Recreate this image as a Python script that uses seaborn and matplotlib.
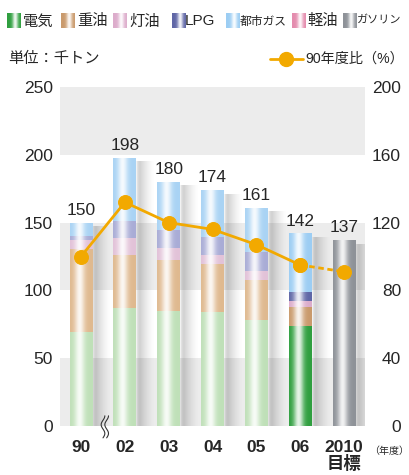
import numpy as np
import pandas as pd
import matplotlib
matplotlib.use("Agg")
import matplotlib.pyplot as plt
import matplotlib.colors as mcolors
from matplotlib.patches import Rectangle
import seaborn as sns

# ---------------- data ----------------
years = ["90", "02", "03", "04", "05", "06", "2010"]
year_labels = ["90", "02", "03", "04", "05", "06", "2010\n目標"]
fuels = ["電気", "重油", "灯油", "LPG", "都市ガス", "軽油", "ガソリン"]
electricity = [69, 87, 85, 84, 78, 74, 0]
heavy_oil = [61.5, 39, 37.5, 35.5, 30, 13.5, 0]
kerosene = [7, 13, 9, 6.5, 6.5, 5, 0]
lpg = [2.5, 12, 13, 13.5, 13.5, 6.5, 0]
city_gas = [10, 47, 35.5, 34.5, 33, 43, 0]
light_oil = [0, 0, 0, 0, 0, 0, 0]
gasoline = [0, 0, 0, 0, 0, 0, 137]
totals = [150, 198, 180, 174, 161, 142, 137]
ratio_pct = [100, 132, 120, 116, 107, 95, 91]
highlight_year = "06"

# ---------------- styles ----------------
sns.set_style("white")
plt.rcParams["font.family"] = ["Liberation Sans", "Noto Sans CJK JP", "DejaVu Sans"]
CJK = ["Noto Sans CJK JP", "DejaVu Sans"]

light_cols = ["#bfe0b8", "#dfb98f", "#e2c2d8", "#a9acd6", "#a9d3f4", "#eaa0bc", "#8e9298"]
strong_cols = ["#2f9f3f", "#c99a6c", "#dcaccb", "#5f66a6", "#9ccdf3", "#e48cae", "#8e9298"]
orange = "#f2a900"

def grad_img(color, n=64, peak=0.42, amt=0.88):
    c = np.array(mcolors.to_rgb(color))
    t = np.linspace(0, 1, n)
    w = amt * np.exp(-((t - peak) / 0.22) ** 2)
    img = c[None, :] * (1 - w[:, None]) + w[:, None]
    return img[None, :, :]

W, H = 409, 475
fig = plt.figure(figsize=(W / 100, H / 100), dpi=100)
ax = fig.add_axes([60 / W, 49 / H, 305 / W, 339 / H])

segs = np.array([electricity, heavy_oil, kerosene, lpg, city_gas, light_oil, gasoline], dtype=float)
cum = np.cumsum(segs, axis=0)

xlim = (-0.48, 6.48)
ax.set_xlim(*xlim)
ax.set_ylim(0, 250)

# background bands
for lo, hi in [(0, 50), (100, 150), (200, 250)]:
    ax.axhspan(lo, hi, color="#ececec", zorder=0, lw=0)

hi_idx = years.index(highlight_year)
bar_right = {}
for k in reversed(range(len(fuels))):
    d = pd.DataFrame({"year": years, "value": cum[k]})
    n0 = len(ax.patches)
    sns.barplot(data=d, x="year", y="value", order=years, color=light_cols[k],
                width=0.52, errorbar=None, saturation=1, linewidth=0, ax=ax)
    new = ax.patches[n0:]
    ax.set_xlim(*xlim)
    ax.set_ylim(0, 250)
    ax.set_autoscale_on(False)
    for p in new:
        i = int(round(p.get_x() + p.get_width() / 2))
        p.set_facecolor("none")
        p.set_edgecolor("none")
        if segs[k][i] <= 0:
            continue
        bar_right[i] = p.get_x() + p.get_width()
        col = strong_cols[k] if i == hi_idx else light_cols[k]
        im = ax.imshow(grad_img(col), extent=[p.get_x(), p.get_x() + p.get_width(), 0, p.get_height()],
                       aspect="auto", zorder=2 + (7 - k) * 0.1, interpolation="bilinear")
        im.set_clip_path(p)

# shadows
t = np.linspace(0, 1, 64)
alpha = 0.26 * np.clip(t / 0.2, 0, 1) ** 0.6 * (1 - t) ** 1.6
shadow = np.zeros((1, 64, 4))
shadow[..., 3] = alpha
for i, tot in enumerate(totals):
    x0 = bar_right[i]
    ax.imshow(shadow, extent=[x0, x0 + 0.45, 0, tot - 3], aspect="auto", zorder=1.5,
              interpolation="bilinear")

ax.set_xlim(*xlim)
ax.set_ylim(0, 250)

# value labels
for i, tot in enumerate(totals):
    ax.text(i, tot + 3.5, f"{tot}", ha="center", va="bottom", fontsize=12.5, zorder=20)

ax.set_xlabel("")
ax.set_ylabel("")
ax.set_xticks(range(len(years)))
ax.set_xticklabels(year_labels, fontweight="bold", fontsize=12.5, linespacing=1.0)
ax.set_yticks(np.arange(0, 251, 50))
ax.tick_params(axis="y", length=0, pad=5, labelsize=12.5)
ax.tick_params(axis="x", length=0, pad=10)
for s in ax.spines.values():
    s.set_visible(False)

# line on right axis
ax2 = ax.twinx()
xpos = np.arange(len(years))
sns.lineplot(x=xpos[:hi_idx + 1], y=ratio_pct[:hi_idx + 1], ax=ax2, color=orange, lw=2,
             marker="o", ms=10, mec=orange, mfc=orange, zorder=5)
sns.lineplot(x=xpos[hi_idx:], y=ratio_pct[hi_idx:], ax=ax2, color=orange, lw=2,
             linestyle=(0, (2, 1.3)), marker="o", ms=10, mec=orange, mfc=orange, zorder=4)
ax2.set_xlim(*xlim)
ax2.set_ylim(0, 200)
ax2.set_yticks(np.arange(0, 201, 40))
ax2.tick_params(axis="y", length=0, pad=26, labelsize=12.5)
for lab in ax2.get_yticklabels():
    lab.set_horizontalalignment("right")
ax2.set_ylabel("")
for s in ax2.spines.values():
    s.set_visible(False)

# break mark
yy = np.linspace(-0.035, 0.03, 40)
for dx in (0.0, 0.012):
    xx = (103 - 60) / 305 + dx + 0.006 * np.sin((yy + 0.035) / 0.065 * 2.5 * np.pi)
    ax.plot(xx, yy, color="#333333", lw=0.8, transform=ax.transAxes, clip_on=False, zorder=30)

# year unit
fig.text(369 / W, 1 - 451 / H, "（年度）", fontsize=7.2, family=CJK, va="center", ha="left")

# top legend
leg = [(7, 23, 11), (61, 77, 11), (113, 129, 11), (172, 185, 11), (226, 240, 8.5), (292, 307, 11), (343, 357, 8)]
for k, (px, tx, fs) in enumerate(leg):
    img = grad_img(strong_cols[k], n=14, peak=0.6, amt=0.9)[0]
    for j in range(14):
        fig.patches.append(Rectangle((px / W + j / W, 1 - 28 / H), 1.0 / W, 15 / H,
                                     transform=fig.transFigure, facecolor=img[j],
                                     edgecolor="none", figure=fig))
    fig.text(tx / W, 1 - 21 / H, fuels[k], fontsize=fs, va="center", ha="left",
             family=CJK if k != 3 else ["Liberation Sans"])

fig.text(8 / W, 1 - 59 / H, "単位：千トン", fontsize=11, family=CJK, va="center", ha="left")
fig.lines.append(plt.Line2D([270 / W, 303 / W], [1 - 59 / H, 1 - 59 / H], color=orange, lw=2,
                            marker=None, transform=fig.transFigure, figure=fig))
fig.lines.append(plt.Line2D([286 / W], [1 - 59 / H], color=orange, marker="o", ms=10,
                            transform=fig.transFigure, figure=fig))
fig.text(305 / W, 1 - 59 / H, "90年度比（%）", fontsize=10.2,
         family=["Liberation Sans", "Noto Sans CJK JP"], va="center", ha="left")

fig.savefig("out.png", dpi=100)
